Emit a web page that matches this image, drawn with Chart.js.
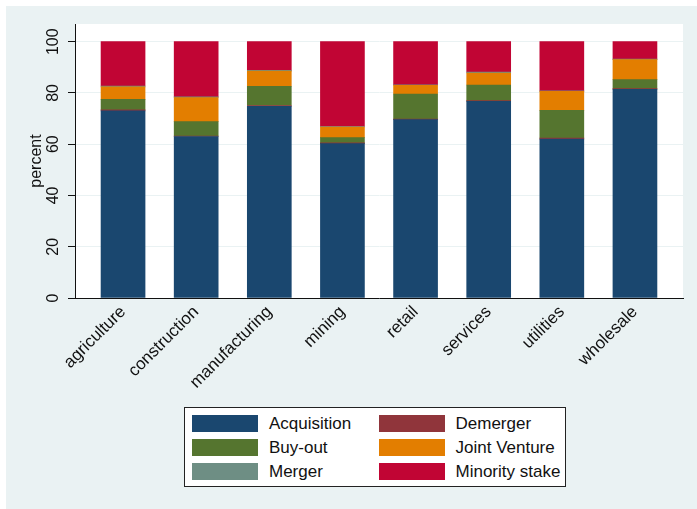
<!DOCTYPE html>
<html>
<head>
<meta charset="utf-8">
<script src="https://cdn.jsdelivr.net/npm/chart.js@4/dist/chart.umd.min.js"></script>
<style>
  html, body { margin: 0; padding: 0; background: #fff; }
  #wrap { position: relative; width: 697px; height: 509px; }
  #legend {
    position: absolute; left: 184px; top: 407px; width: 380px; height: 78px;
    background: #fff; border: 1px solid #222;
    font-family: "Liberation Sans", Arial, sans-serif; font-size: 17px; color: #111;
  }
  .item { position: absolute; height: 17px; }
  .sw { position: absolute; left: 0; top: 0; width: 66px; height: 17px; }
  .lbl { position: absolute; left: 77px; top: -2px; white-space: nowrap; line-height: 21px; }
</style>
</head>
<body>
<div id="wrap">
  <canvas id="myChart" width="697" height="509"></canvas>
  <div id="legend"></div>
</div>
<script>
// categories and y ticks
var categories = ["agriculture", "construction", "manufacturing", "mining", "retail", "services", "utilities", "wholesale"];
var yTicks = [0, 20, 40, 60, 80, 100];

// shares in percent
var acquisition   = [73.0, 63.0, 74.8, 60.2, 69.6, 76.7, 62.0, 81.4];
var demerger      = [0.4, 0.2, 0.3, 0.3, 0.2, 0.3, 0.4, 0.3];
var buyOut        = [4.1, 5.6, 7.5, 2.1, 9.8, 6.1, 10.8, 3.5];
var jointVenture  = [4.9, 9.4, 5.9, 4.1, 3.4, 4.7, 7.4, 7.8];
var merger        = [0.3, 0.3, 0.3, 0.2, 0.2, 0.3, 0.2, 0.2];
var minorityStake = [17.3, 21.5, 11.2, 33.1, 16.8, 11.9, 19.2, 6.8];

var seriesNames = ["Acquisition", "Demerger", "Buy-out", "Joint Venture", "Merger", "Minority stake"];
var seriesData = [acquisition, demerger, buyOut, jointVenture, merger, minorityStake];
var seriesColors = ["#1a476f", "#90353b", "#55752f", "#e37e00", "#6e8e84", "#c10534"];

var FONT = "'Liberation Sans', Arial, sans-serif";

var datasets = seriesData.map(function(arr, k) {
  return {
    label: seriesNames[k],
    data: arr.map(function(v, i) { return {x: i, y: v}; }),
    backgroundColor: seriesColors[k],
    borderWidth: 0,
    barThickness: 44
  };
});

// background: light frame, white plot region
var bgPlugin = {
  id: "bg",
  beforeDraw: function(chart) {
    var ctx = chart.ctx, a = chart.chartArea;
    ctx.save();
    ctx.fillStyle = "#ffffff";
    ctx.fillRect(0, 0, chart.width, chart.height);
    ctx.fillStyle = "#eaf2f3";
    ctx.fillRect(6, 6, chart.width - 6, chart.height - 6);
    ctx.fillStyle = "#ffffff";
    ctx.fillRect(a.left, a.top, a.right - a.left, a.bottom - a.top);
    ctx.restore();
  }
};

new Chart("myChart", {
  type: "bar",
  data: { datasets: datasets },
  plugins: [bgPlugin],
  options: {
    responsive: false,
    animation: false,
    layout: { padding: { left: 0, top: 24, right: 14, bottom: 0 } },
    plugins: { legend: { display: false }, tooltip: { enabled: false } },
    scales: {
      x: {
        type: "linear",
        stacked: true,
        offset: false,
        min: -0.657,
        max: 7.657,
        afterBuildTicks: function(scale) {
          scale.ticks = categories.map(function(c, i) { return {value: i}; });
        },
        afterFit: function(scale) { scale.height = 211; },
        grid: { display: true, drawOnChartArea: false, drawTicks: false },
        border: { display: true, color: "#111", width: 1 },
        ticks: {
          minRotation: 45, maxRotation: 45, padding: 4, autoSkip: false,
          color: "#111", font: { family: FONT, size: 17 },
          callback: function(v) { return categories[v]; }
        }
      },
      y: {
        stacked: true,
        min: 0,
        max: 106.9,
        afterBuildTicks: function(scale) {
          scale.ticks = yTicks.map(function(v) { return {value: v}; });
        },
        afterFit: function(scale) { scale.width = 75; },
        grid: { color: "#eaf2f3", lineWidth: 1, tickColor: "#111", tickLength: 7 },
        border: { display: true, color: "#111", width: 1 },
        ticks: {
          minRotation: 90, maxRotation: 90, padding: 1, crossAlign: "center",
          color: "#111", font: { family: FONT, size: 16 }
        },
        title: {
          display: true, text: "percent", color: "#111",
          font: { family: FONT, size: 16 },
          padding: { top: 27, bottom: 0 }
        }
      }
    }
  }
});

// legend, two columns filled row by row
var leg = document.getElementById("legend");
seriesNames.forEach(function(name, i) {
  var col = i % 2, row = Math.floor(i / 2);
  var it = document.createElement("div");
  it.className = "item";
  it.style.left = (7 + col * 186.5) + "px";
  it.style.top = (6.5 + row * 24.3) + "px";
  it.innerHTML = '<div class="sw" style="background:' + seriesColors[i] + '"></div><div class="lbl">' + name + '</div>';
  leg.appendChild(it);
});
</script>
</body>
</html>
